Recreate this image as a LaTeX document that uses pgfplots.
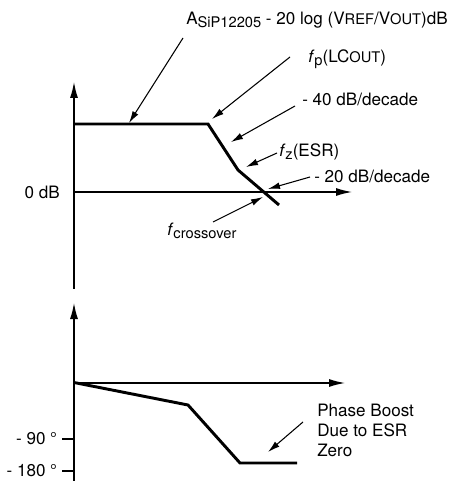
\documentclass[border=0pt]{standalone}
\usepackage{pgfplots}
\pgfplotsset{compat=1.18}
\usepackage{fontspec}
\setmainfont{TeX Gyre Heros}
\usetikzlibrary{arrows.meta}

% helpers for the small caps / subscripts of the annotations
\newcommand\lo[1]{\raisebox{-2pt}{\fontsize{11}{12}\selectfont #1}}
\newcommand\sm[1]{{\fontsize{11}{12}\selectfont #1}}

\begin{document}
\begin{tikzpicture}[
  ann/.style={line width=0.8pt, -{Latex[length=9pt,width=5pt]}},
  lbl/.style={inner sep=0pt, font=\fontsize{12.8}{15}\selectfont}
]
\path[use as bounding box] (0,0) rectangle (338.25pt,360.75pt);

% gain (top)
\begin{axis}[
  at={(55.5pt,144pt)}, anchor=south west,
  scale only axis, width=208.5pt, height=155.25pt,
  xmin=0, xmax=278, ymin=-97, ymax=110,
  axis x line=middle, axis y line=left,
  axis line style={line width=1pt, -{Latex[length=12pt,width=6pt]}},
  xtick=\empty, ytick=\empty,
  clip=false,
]
\addplot[line width=2.2pt, black, line join=miter] coordinates {
  (0,68) (134,68) (164,22) (205,-13)
};
\end{axis}

% phase (bottom)
\begin{axis}[
  at={(55.5pt,0pt)}, anchor=south west,
  scale only axis, width=203.25pt, height=133.5pt,
  xmin=0, xmax=271, ymin=-98, ymax=80,
  axis x line=middle, axis y line=left,
  axis line style={line width=1pt, -{Latex[length=12pt,width=6pt]}},
  xtick=\empty, ytick={-56,-88},
  yticklabels={- 90 °, - 180 °},
  tick align=outside, major tick length=9pt,
  tick style={line width=1pt, black},
  yticklabel style={font=\fontsize{12.8}{15}\selectfont, inner sep=0pt, xshift=-3.5pt},
  clip=false,
]
\addplot[line width=2.2pt, black, line join=miter] coordinates {
  (0,0.5) (114,-22) (166,-80) (223,-80)
};
\end{axis}

% annotations, in pixel units of the reference (origin top left)
\begin{scope}[x=0.75pt, y=-0.75pt, shift={(0pt,360.75pt)}]
\node[lbl, anchor=east] at (60,192) {0 dB};
\node[lbl, anchor=base west] at (186,25)
  {A\lo{SiP12205} - 20 log (V\sm{REF}/V\sm{OUT})dB};
\draw[ann] (183,38) -- (129,123);
\node[lbl, anchor=base west] at (308,63) {\textit{f}\lo{p}(LC\sm{OUT})};
\draw[ann] (290,57) -- (212,119);
\node[lbl, anchor=base west] at (302,106) {- 40 dB/decade};
\draw[ann] (295,106) -- (231,142);
\node[lbl, anchor=base west] at (279,157) {\textit{f}\lo{z}(ESR)};
\draw[ann] (277,153) -- (246,167);
\node[lbl, anchor=base west] at (314,183) {- 20 dB/decade};
\draw[ann] (310,177) -- (268,189);
\node[lbl, anchor=base west] at (167,236) {\textit{f}\lo{crossover}};
\draw[ann] (213,222) -- (263,197);
\node[lbl, anchor=base west] at (317,417) {Phase Boost};
\node[lbl, anchor=base west] at (317,437) {Due to ESR};
\node[lbl, anchor=base west] at (317,457) {Zero};
\draw[ann] (303,422) -- (268,452);
\end{scope}
\end{tikzpicture}
\end{document}
